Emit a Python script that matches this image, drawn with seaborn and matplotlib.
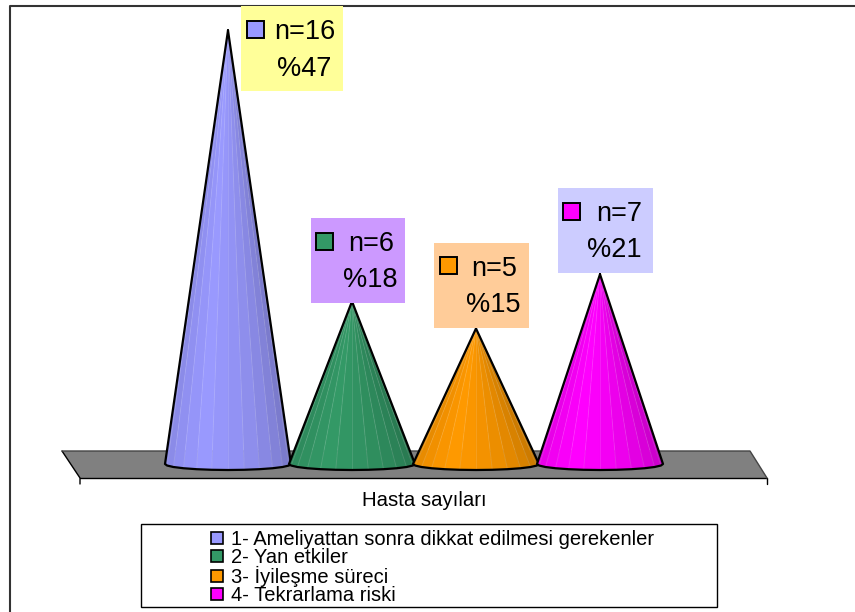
import seaborn as sns
import matplotlib.pyplot as plt
import matplotlib.transforms as mtrans
from matplotlib.colors import to_rgb
from matplotlib.patches import Polygon, Rectangle, Patch
import numpy as np
import pandas as pd

# Data
categories = ['1- Ameliyattan sonra dikkat edilmesi gerekenler', '2- Yan etkiler',
              '3- İyileşme süreci', '4- Tekrarlama riski']
counts = [16, 6, 5, 7]
percents = [47, 18, 15, 21]
axis_label = 'Hasta sayıları'

cone_colors = ['#9999FF', '#339966', '#FF9900', '#FF00FF']
box_colors = ['#FFFF99', '#CC99FF', '#FFCC99', '#CCCCFF']

# label boxes in pixels: left, top, right, bottom
boxes = [(241, 6, 343, 91), (311, 218, 405, 303), (434, 243, 529, 328), (558, 188, 653, 273)]
# marker left/top, right edge of n= and % text, their baselines
markers = [(247, 21), (316, 233), (440, 257), (563, 203)]
text_pos = [(335, 39, 331, 76), (394, 251, 397, 287), (517, 276, 520, 312), (642, 221, 642, 257)]

W, H = 855, 612
sns.set_theme(style='white')
plt.rcParams['font.family'] = ['Liberation Sans', 'DejaVu Sans']

fig = plt.figure(figsize=(W / 100, H / 100), dpi=100)
ax = fig.add_axes([0, 0, 1, 1])
df = pd.DataFrame({'cat': categories, 'n': counts})
sns.barplot(data=df, x='cat', y='n', width=0, color='white', ax=ax)

# scale: first cone at x=228px, 124px apart, baseline at y=464px, 27.1px per patient
ax.set_xlim(-228 / 124, (W - 228) / 124)
ax.set_ylim((464 - H) / 27.1, 464 / 27.1)
ax.axis('off')

# pixel coordinates for the decoration
px = mtrans.Affine2D().scale(1 / W, -1 / H).translate(0, 1) + fig.transFigure

# chart frame, no right or bottom side
ax.plot([10, 10, W], [H, 6, 6], color='#333333', lw=1.5, transform=px, clip_on=False, zorder=1)

# floor
ax.add_patch(Polygon([(62, 451), (750, 451), (767, 478), (80, 478)], closed=True,
                     facecolor='#808080', edgecolor='none', transform=px, zorder=2))
ax.plot([62, 80, 80], [451, 478, 484], color='black', lw=1, transform=px, zorder=2)
ax.plot([80, 767, 767], [478, 478, 484], color='black', lw=1, transform=px, zorder=2)
ax.plot([62, 750, 767], [451, 451, 478], color='#444444', lw=1, transform=px, zorder=2)


def shade(color, f):
    r, g, b = to_rgb(color)
    return (r * f, g * f, b * f)


# cones
half_w = 63 / 124
depth = 6 / 27.1
n_facets = 12
angles = np.linspace(np.pi, 2 * np.pi, n_facets + 1)
for i, (n, col) in enumerate(zip(counts, cone_colors)):
    xs = i + half_w * np.cos(angles)
    ys = depth * np.sin(angles)
    for k in range(n_facets):
        pos = (k + 0.5) / n_facets
        # brightest a bit left of the middle, darker towards the right edge
        f = 1 - 0.14 * max(0.35 - pos, 0) / 0.35 - 0.27 * max(pos - 0.35, 0) ** 1.5 / 0.65 ** 1.5
        ax.add_patch(Polygon([(i, n), (xs[k], ys[k]), (xs[k + 1], ys[k + 1])], closed=True,
                             facecolor=shade(col, f), edgecolor=shade(col, f), lw=0.3, zorder=3 + i))
        if k > 0:
            ax.plot([i, xs[k]], [n, ys[k]], color='white', alpha=0.12, lw=0.7, zorder=3 + i)
    # outline
    ax.plot(np.r_[i, xs, i], np.r_[n, ys, n], color='black', lw=1.6, solid_joinstyle='round', zorder=3 + i)

# value labels
for i in range(4):
    l, t, r, b = boxes[i]
    ax.add_patch(Rectangle((l, t), r - l, b - t, facecolor=box_colors[i], edgecolor='none',
                           transform=px, zorder=8))
    mx, my = markers[i]
    ax.add_patch(Rectangle((mx, my), 17, 17, facecolor=cone_colors[i], edgecolor='black', lw=1.4,
                           transform=px, zorder=9))
    x1, y1, x2, y2 = text_pos[i]
    ax.text(x1, y1, f'n={counts[i]}', transform=px, ha='right', va='baseline', fontsize=19.5,
            color='black', zorder=9)
    ax.text(x2, y2, f'%{percents[i]}', transform=px, ha='right', va='baseline', fontsize=19.5,
            color='black', zorder=9)

# axis title
ax.text(424, 501, axis_label, transform=px, ha='center', va='center', fontsize=14.7, color='black')

# legend
ax.add_patch(Rectangle((141, 524), 576, 83, facecolor='white', edgecolor='black', lw=1, transform=px))
handles = [Patch(facecolor=c, edgecolor='black', lw=1.2) for c in cone_colors]
leg = ax.legend(handles, categories, loc='upper left', bbox_to_anchor=(211 / W, 1 - 530 / H),
                bbox_transform=fig.transFigure, frameon=False, fontsize=14.5, labelcolor='black',
                handlelength=0.6, handleheight=0.6, handletextpad=0.4, labelspacing=-0.05,
                borderpad=0, borderaxespad=0)
leg.set_zorder(20)

plt.savefig('out.png', dpi=100)
